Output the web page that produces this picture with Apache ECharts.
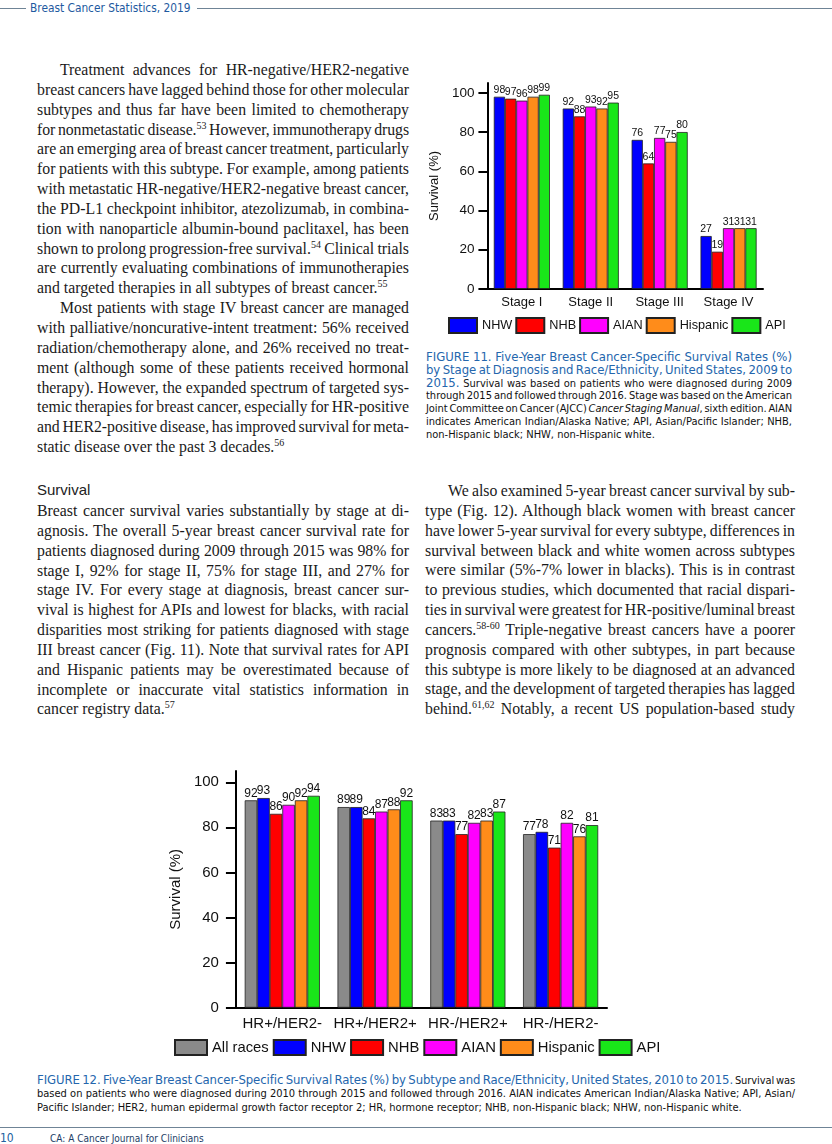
<!DOCTYPE html>
<html><head><meta charset="utf-8">
<script src="https://cdn.jsdelivr.net/npm/echarts@6/dist/echarts.min.js"></script>
<style>
body{margin:0;background:#fff;}
#page{position:relative;width:832px;height:1144px;overflow:hidden;background:#fff;}
.ln{position:absolute;white-space:nowrap;}
.body{font-family:"Liberation Serif","Times New Roman",serif;font-size:15.8px;line-height:20px;color:#1a1a1a;}
.cap{font-family:"Liberation Sans Narrow","DejaVu Sans Condensed","Liberation Sans",Arial,sans-serif;font-size:11px;line-height:13px;color:#111;}
.capt{color:#2466ad;font-size:13px;}
sup{font-size:10px;line-height:0;vertical-align:6px;}
.hd{position:absolute;font-family:"Liberation Sans",Arial,sans-serif;font-size:15px;color:#222;}
.rule{position:absolute;height:1px;background:#6f8496;}
.narrow{font-family:"Liberation Sans Narrow","DejaVu Sans Condensed","Liberation Sans",Arial,sans-serif;}
#c1{position:absolute;left:420px;top:70px;width:380px;height:270px;}
#c2{position:absolute;left:160px;top:760px;width:520px;height:300px;}
</style></head>
<body><div id="page">
<div class="rule" style="left:0;top:8px;width:26px;"></div>
<div class="rule" style="left:197px;top:8px;width:635px;"></div>
<div class="ln narrow" style="left:30px;top:0px;font-size:11.8px;line-height:16px;color:#1e5aa0;">Breast Cancer Statistics, 2019</div>
<div class="hd" style="left:37px;top:481px;">Survival</div>
<div class="rule" style="left:0;top:1127px;width:832px;"></div>
<div class="ln narrow" style="left:0px;top:1131px;font-size:12px;line-height:14px;color:#2060a0;">10</div>
<div class="ln narrow" style="left:50px;top:1132px;font-size:10px;line-height:14px;color:#1c3d66;">CA: A Cancer Journal for Clinicians</div>
<div id="c1"></div>
<div id="c2"></div>
</div>
<script>
// ---------- data ----------
const stageCategories = ['Stage I', 'Stage II', 'Stage III', 'Stage IV'];
const fig11SeriesNames = ['NHW', 'NHB', 'AIAN', 'Hispanic', 'API'];
const fig11NHW = [98, 92, 76, 27];
const fig11NHB = [97, 88, 64, 19];
const fig11AIAN = [96, 93, 77, 31];
const fig11Hispanic = [98, 92, 75, 31];
const fig11API = [99, 95, 80, 31];

const subtypeCategories = ['HR+/HER2-', 'HR+/HER2+', 'HR-/HER2+', 'HR-/HER2-'];
const fig12SeriesNames = ['All races', 'NHW', 'NHB', 'AIAN', 'Hispanic', 'API'];
const fig12AllRaces = [92, 89, 83, 77];
const fig12NHW = [93, 89, 83, 78];
const fig12NHB = [86, 84, 77, 71];
const fig12AIAN = [90, 87, 82, 82];
const fig12Hispanic = [92, 88, 83, 76];
const fig12API = [94, 92, 87, 81];

const yTickValues = [0, 20, 40, 60, 80, 100];

// ---------- text ----------
function block(x, y0, lh, w, cls, lines) {
  const page = document.getElementById('page');
  lines.forEach((s, i) => {
    let ind = 0, just = true;
    if (s[0] === '>') { ind = 23; s = s.slice(1); }
    if (s[0] === '|') { just = false; s = s.slice(1); }
    const d = document.createElement('div');
    d.className = 'ln ' + cls + (just ? ' j' : '');
    d.style.left = (x + ind) + 'px';
    d.style.top = (y0 + i * lh - lh / 2) + 'px';
    d.dataset.w = w - ind;
    d.innerHTML = s;
    page.appendChild(d);
  });
}
block(37, 70, 19.84, 372, 'body', [
  '>Treatment advances for HR-negative/HER2-negative',
  'breast cancers have lagged behind those for other molecular',
  'subtypes and thus far have been limited to chemotherapy',
  'for nonmetastatic disease.<sup>53</sup> However, immunotherapy drugs',
  'are an emerging area of breast cancer treatment, particularly',
  'for patients with this subtype. For example, among patients',
  'with metastatic HR-negative/HER2-negative breast cancer,',
  'the PD-L1 checkpoint inhibitor, atezolizumab, in combina-',
  'tion with nanoparticle albumin-bound paclitaxel, has been',
  'shown to prolong progression-free survival.<sup>54</sup> Clinical trials',
  'are currently evaluating combinations of immunotherapies',
  '|and targeted therapies in all subtypes of breast cancer.<sup>55</sup>',
  '>Most patients with stage IV breast cancer are managed',
  'with palliative/noncurative-intent treatment: 56% received',
  'radiation/chemotherapy alone, and 26% received no treat-',
  'ment (although some of these patients received hormonal',
  'therapy). However, the expanded spectrum of targeted sys-',
  'temic therapies for breast cancer, especially for HR-positive',
  'and HER2-positive disease, has improved survival for meta-',
  '|static disease over the past 3 decades.<sup>56</sup>'
]);
block(37, 511, 19.84, 372, 'body', [
  'Breast cancer survival varies substantially by stage at di-',
  'agnosis. The overall 5-year breast cancer survival rate for',
  'patients diagnosed during 2009 through 2015 was 98% for',
  'stage I, 92% for stage II, 75% for stage III, and 27% for',
  'stage IV. For every stage at diagnosis, breast cancer sur-',
  'vival is highest for APIs and lowest for blacks, with racial',
  'disparities most striking for patients diagnosed with stage',
  'III breast cancer (Fig. 11). Note that survival rates for API',
  'and Hispanic patients may be overestimated because of',
  'incomplete or inaccurate vital statistics information in',
  '|cancer registry data.<sup>57</sup>'
]);
block(425, 491, 19.84, 370, 'body', [
  '>We also examined 5-year breast cancer survival by sub-',
  'type (Fig. 12). Although black women with breast cancer',
  'have lower 5-year survival for every subtype, differences in',
  'survival between black and white women across subtypes',
  'were similar (5%-7% lower in blacks). This is in contrast',
  'to previous studies, which documented that racial dispari-',
  'ties in survival were greatest for HR-positive/luminal breast',
  'cancers.<sup>58-60</sup> Triple-negative breast cancers have a poorer',
  'prognosis compared with other subtypes, in part because',
  'this subtype is more likely to be diagnosed at an advanced',
  'stage, and the development of targeted therapies has lagged',
  'behind.<sup>61,62</sup> Notably, a recent US population-based study'
]);
block(426, 356, 13, 366, 'cap', [
  '<span class="capt">FIGURE 11. Five-Year Breast Cancer-Specific Survival Rates (%)</span>',
  '<span class="capt">by Stage at Diagnosis and Race/Ethnicity, United States, 2009 to</span>',
  '<span class="capt">2015.</span> Survival was based on patients who were diagnosed during 2009',
  'through 2015 and followed through 2016. Stage was based on the American',
  'Joint Committee on Cancer (AJCC) <i>Cancer Staging Manual</i>, sixth edition. AIAN',
  'indicates American Indian/Alaska Native; API, Asian/Pacific Islander; NHB,',
  '|non-Hispanic black; NHW, non-Hispanic white.'
]);
block(37, 1080, 14, 758, 'cap', [
  '<span class="capt">FIGURE 12. Five-Year Breast Cancer-Specific Survival Rates (%) by Subtype and Race/Ethnicity, United States, 2010 to 2015.</span> Survival was',
  'based on patients who were diagnosed during 2010 through 2015 and followed through 2016. AIAN indicates American Indian/Alaska Native; API, Asian/',
  '|Pacific Islander; HER2, human epidermal growth factor receptor 2; HR, hormone receptor; NHB, non-Hispanic black; NHW, non-Hispanic white.'
]);
document.querySelectorAll('.ln[data-w]').forEach(el => {
  const W = parseFloat(el.dataset.w);
  const nat = el.getBoundingClientRect().width;
  const txt = el.textContent;
  const spaces = (txt.match(/ /g) || []).length;
  if (el.classList.contains('j') && spaces > 0) {
    let ws = (W - nat) / spaces;
    if (ws < -1.2) {
      const ls = (W - nat + 1.2 * spaces) / txt.length;
      el.style.letterSpacing = ls + 'px';
      ws = -1.2;
    }
    el.style.wordSpacing = ws + 'px';
  } else if (nat > W) {
    el.style.letterSpacing = ((W - nat) / txt.length) + 'px';
  }
});

// ---------- charts ----------
const FONT = '"Liberation Sans", Arial, sans-serif';
const COLORS = { 'All races': '#8a8a8a', NHW: '#0000ff', NHB: '#ff0000', AIAN: '#ff00ff', Hispanic: '#ff8c1a', API: '#19e619' };

function makeOption(o) {
  return {
    animation: false,
    textStyle: { fontFamily: FONT },
    grid: o.grid,
    legend: {
      data: o.names, left: o.legendLeft, top: o.legendTop, padding: 0,
      itemWidth: o.legendW, itemHeight: 15, itemGap: o.legendGap, icon: 'rect',
      textStyle: { fontFamily: FONT, fontSize: o.legendFont, color: '#111' }
    },
    xAxis: {
      type: 'category', data: o.categories,
      axisLine: { show: true, lineStyle: { color: '#000', width: 2 } },
      axisTick: { show: false },
      axisLabel: { interval: 0, fontFamily: FONT, fontSize: o.catFont, color: '#111', margin: o.catMargin }
    },
    yAxis: {
      type: 'value', min: 0, max: 105, interval: 20,
      name: 'Survival (%)', nameLocation: 'middle', nameGap: o.nameGap,
      nameTextStyle: { fontFamily: FONT, fontSize: o.nameFont, color: '#111' },
      axisLine: { show: true, lineStyle: { color: '#000', width: 2 } },
      axisTick: { show: true, length: o.tickLen, lineStyle: { color: '#000', width: 2 }, customValues: yTickValues },
      axisLabel: { fontFamily: FONT, fontSize: o.tickFont, color: '#111', margin: o.tickMargin, customValues: yTickValues },
      splitLine: { show: false }
    },
    series: o.names.map((n, i) => ({
      name: n, type: 'bar', data: o.values[i],
      barGap: '0%', barCategoryGap: o.catGap,
      itemStyle: { color: COLORS[n], borderColor: '#222', borderWidth: 0.8 },
      label: { show: true, position: 'top', distance: 1, fontFamily: FONT, fontSize: o.valFont, color: '#111' }
    }))
  };
}

const c1 = echarts.init(document.getElementById('c1'), null, { renderer: 'canvas' });
c1.setOption(makeOption({
  grid: { left: 63, top: 13, width: 280, height: 206 },
  names: fig11SeriesNames,
  values: [fig11NHW, fig11NHB, fig11AIAN, fig11Hispanic, fig11API],
  categories: stageCategories,
  legendLeft: 28, legendTop: 247, legendW: 28, legendGap: 3, legendFont: 12.7,
  catFont: 13, catMargin: 7, nameGap: 43, nameFont: 13,
  tickLen: 9, tickFont: 13.5, tickMargin: 13, catGap: '18.6%', valFont: 10.5
}));

const c2 = echarts.init(document.getElementById('c2'), null, { renderer: 'canvas' });
c2.setOption(makeOption({
  grid: { left: 67, top: 11, width: 380, height: 236.7 },
  names: fig12SeriesNames,
  values: [fig12AllRaces, fig12NHW, fig12NHB, fig12AIAN, fig12Hispanic, fig12API],
  categories: subtypeCategories,
  legendLeft: 14, legendTop: 279, legendW: 32, legendGap: 4, legendFont: 14.8,
  catFont: 15, catMargin: 9, nameGap: 49, nameFont: 15,
  tickLen: 10, tickFont: 15, tickMargin: 17, catGap: '19%', valFont: 12
}));
</script>
</body></html>
